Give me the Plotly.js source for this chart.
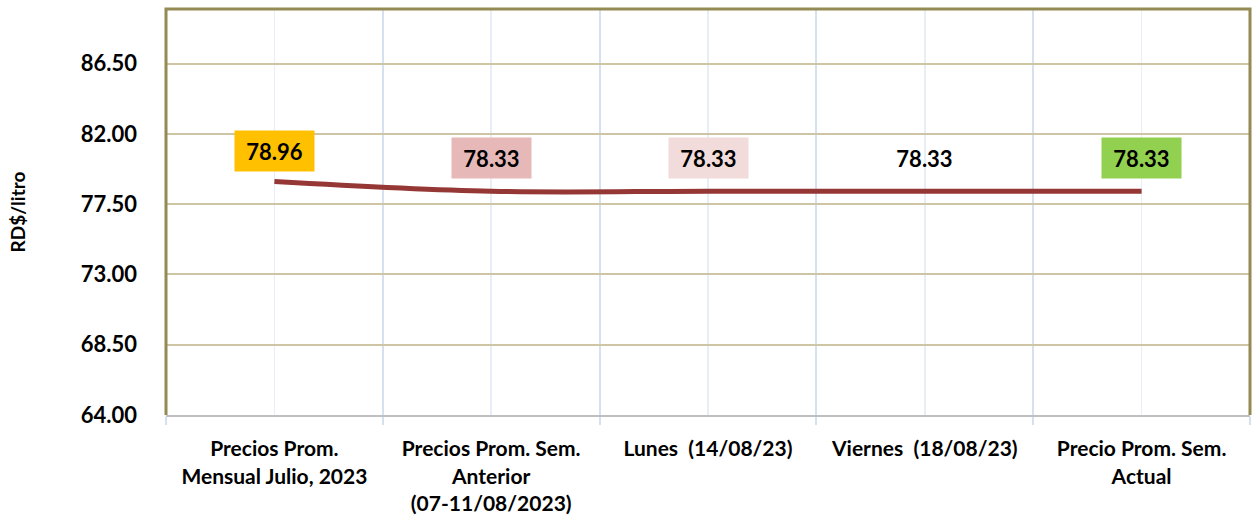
<!DOCTYPE html>
<html>
<head>
<meta charset="utf-8">
<script src="https://cdn.plot.ly/plotly-3.0.1.min.js"></script>
<style>html,body{margin:0;padding:0;background:#fff;}#chart{width:1252px;height:521px;}</style>
</head>
<body>
<div id="chart"></div>
<script>
const categories = [
  "Precios Prom.<br>Mensual Julio, 2023",
  "Precios Prom. Sem.<br>Anterior<br>(07-11/08/2023)",
  "Lunes  (14/08/23)",
  "Viernes  (18/08/23)",
  "Precio Prom. Sem.<br>Actual"
];
const prices = [78.96, 78.33, 78.33, 78.33, 78.33];
const labelColors = ["#ffc000", "#e6b9b8", "#f2dcdb", "rgba(0,0,0,0)", "#92d050"];
const yTickVals = [64, 68.5, 73, 77.5, 82, 86.5];
const yTickText = ["64.00", "68.50", "73.00", "77.50", "82.00", "86.50"];

const idx = categories.map((_, i) => i);
const FONT = "Lato, 'Open Sans', sans-serif";

const trace = {
  x: idx, y: prices, type: "scatter", mode: "lines",
  line: {color: "#953735", width: 5, shape: "spline", smoothing: 1},
  hoverinfo: "skip", showlegend: false
};

const annotations = prices.map((v, i) => ({
  x: i, y: v, xref: "x", yref: "y",
  text: "<b>" + v.toFixed(2) + "</b>",
  showarrow: false, yshift: i === 0 ? 30 : 33,
  bgcolor: labelColors[i], width: 77, height: 38,
  font: {family: FONT, size: 22, color: "#000"}
}));

const layout = {
  width: 1252, height: 521,
  margin: {l: 166, r: 2, t: 9, b: 106},
  paper_bgcolor: "#fff", plot_bgcolor: "#fff",
  font: {family: FONT, color: "#000"},
  xaxis: {
    range: [-0.5, 4.5], tickmode: "array", tickvals: idx, ticktext: categories,
    tickangle: 0,
    tickfont: {family: FONT, size: 21, color: "#000", weight: "bold"},
    showgrid: true, gridcolor: "#e8eef7", gridwidth: 1.5,
    ticks: "", ticklabelstandoff: 14,
    showline: true, linecolor: "#bfbfbf", linewidth: 2,
    zeroline: false,
    minor: {tickmode: "array", tickvals: [-0.5, 0.5, 1.5, 2.5, 3.5, 4.5],
            showgrid: true, gridcolor: "#d5e1f0", gridwidth: 2,
            ticks: "outside", ticklen: 8, tickcolor: "#d5e1f0", tickwidth: 2}
  },
  yaxis: {
    range: [64, 90], tickmode: "array", tickvals: yTickVals, ticktext: yTickText,
    tickfont: {family: FONT, size: 22, color: "#000", weight: "bold"},
    showgrid: true, gridcolor: "#cdc5a3", gridwidth: 2,
    ticks: "", ticklabelstandoff: 28, zeroline: false, showline: false,
    title: {text: "<b>RD$/litro</b>", font: {family: FONT, size: 19, color: "#000"}, standoff: 50}
  },
  shapes: [{
    type: "path", xref: "paper", yref: "paper",
    path: "M 0,0 L 0,1 L 1,1 L 1,0",
    line: {color: "#948a54", width: 3}, layer: "above"
  }],
  annotations: annotations
};

Plotly.newPlot("chart", [trace], layout, {displayModeBar: false, staticPlot: true});
</script>
</body>
</html>
